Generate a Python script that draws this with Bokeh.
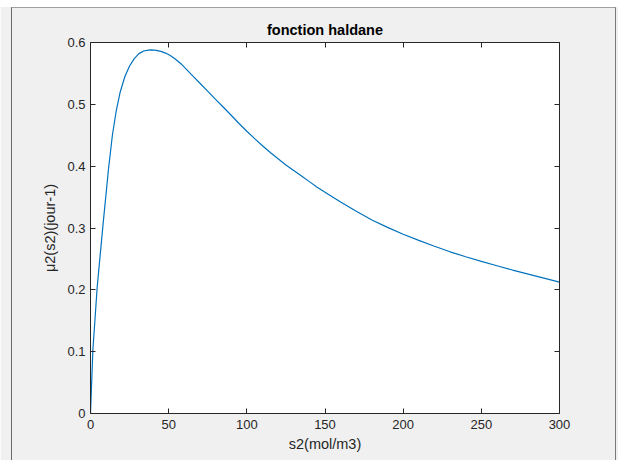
from bokeh.plotting import figure
from bokeh.models import (LinearAxis, FixedTicker, CustomJSTickFormatter,
                          CustomLabelingPolicy, InlineStyleSheet, Range1d)
from bokeh.embed import file_html
from bokeh.resources import INLINE

# ---- data ----
s2 = [0, 1.5, 4.3, 8, 11.5, 14, 16.5, 19, 22, 25, 28, 31, 34, 37, 39,
      42, 45, 48, 51, 54, 58, 62, 66, 70, 74, 80, 85, 90, 95, 100, 105,
      110, 115, 120, 125, 130, 135, 140, 145, 150, 160, 170, 180, 190, 200,
      210, 220, 230, 240, 250, 260, 270, 280, 290, 300]
mu2 = [0, 0.102, 0.205, 0.305, 0.395, 0.450, 0.490, 0.520, 0.545, 0.562,
       0.574, 0.582, 0.5863, 0.5878, 0.588,
       0.5874, 0.5857, 0.5829, 0.5789, 0.5738, 0.5653, 0.5549, 0.5445,
       0.5341, 0.5237, 0.508, 0.4953, 0.4823, 0.469, 0.4565, 0.4445,
       0.433, 0.422, 0.412, 0.402, 0.393, 0.384, 0.375, 0.366, 0.358,
       0.342, 0.327, 0.313, 0.301, 0.290, 0.280, 0.2705, 0.2615, 0.2535,
       0.246, 0.239, 0.232, 0.2255, 0.219, 0.2125]
x_ticks = [0, 50, 100, 150, 200, 250, 300]
y_ticks = [0, 0.1, 0.2, 0.3, 0.4, 0.5, 0.6]
title_text = "fonction haldane"
x_label = "s2(mol/m3)"
y_label = "\u03bc2(s2)(jour-1)"

FONT = "Liberation Sans"
AX = "#262626"
BG = "#f0f0f0"

p = figure(width=618, height=460, output_backend="svg", toolbar_location=None,
           x_range=Range1d(0, 300), y_range=Range1d(0, 0.6),
           x_axis_location=None, y_axis_location=None,
           min_border_left=90, min_border_right=59,
           min_border_top=42, min_border_bottom=47)
p.border_fill_color = BG
p.background_fill_color = "white"
p.outline_line_color = None
p.xgrid.visible = False
p.ygrid.visible = False

fmt = CustomJSTickFormatter(code="return String(Math.round(tick*10)/10);")
no_labels = CustomLabelingPolicy(code="""
    const ids = [...indices];
    for (const i of ids) indices.unset(i);
    return indices;
""")


def style(ax):
    ax.axis_line_color = AX
    ax.axis_line_width = 1
    ax.major_tick_line_color = AX
    ax.major_tick_in = 5
    ax.major_tick_out = 0
    ax.minor_tick_line_color = None
    ax.major_label_text_font = FONT
    ax.major_label_text_font_size = "13px"
    ax.major_label_text_color = AX
    ax.axis_label_text_font = FONT
    ax.axis_label_text_font_size = "14.5px"
    ax.axis_label_text_color = AX
    ax.axis_label_text_font_style = "normal"


xb = LinearAxis(ticker=FixedTicker(ticks=x_ticks), formatter=fmt, axis_label=x_label)
style(xb)
xb.major_label_standoff = 6
xb.axis_label_standoff = 4
p.add_layout(xb, "below")

yl = LinearAxis(ticker=FixedTicker(ticks=y_ticks), formatter=fmt, axis_label=y_label)
style(yl)
yl.major_label_standoff = 5
yl.axis_label_standoff = 6
p.add_layout(yl, "left")

xt = LinearAxis(ticker=FixedTicker(ticks=x_ticks), formatter=fmt,
                major_label_policy=no_labels)
style(xt)
xt.major_label_standoff = 0
p.add_layout(xt, "above")

yr = LinearAxis(ticker=FixedTicker(ticks=y_ticks), formatter=fmt,
                major_label_policy=no_labels)
style(yr)
yr.major_label_standoff = 0
p.add_layout(yr, "right")

p.title.text = title_text
p.title.align = "center"
p.title.text_font = FONT
p.title.text_font_size = "14.5px"
p.title.text_font_style = "bold"
p.title.text_color = "#000000"
p.title.standoff = -14

p.line(s2, mu2, line_color="#0072bd", line_width=1.2)

# window decorations around the figure (pure CSS, no data)
p.stylesheets = [InlineStyleSheet(css="""
:host { position: relative; }
:host::before {
  content: ""; position: absolute; left: 0; top: 0; width: 618px; height: 7px;
  background: #ffffff; z-index: 10; pointer-events: none;
}
:host::after {
  content: ""; position: absolute; left: 11px; top: 7px; width: 605px; height: 460px;
  box-sizing: border-box; border-left: 1px solid #6a6a6a; border-top: 1px solid #a0a0a0;
  border-right: 1px solid #7a7a7a; z-index: 10; pointer-events: none;
}
""")]

open("out.html", "w").write(file_html(p, INLINE))
